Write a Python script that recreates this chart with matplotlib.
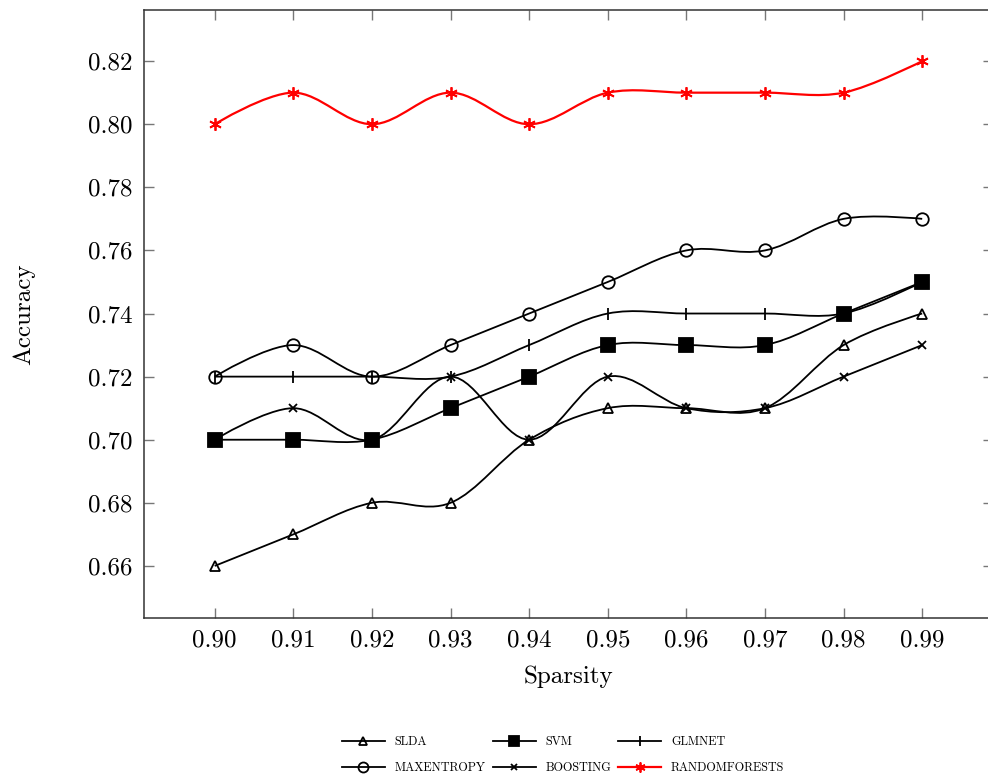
import numpy as np
import matplotlib
matplotlib.use("Agg")
import matplotlib.pyplot as plt
from matplotlib.path import Path
from matplotlib.patches import PathPatch
from matplotlib.lines import Line2D

# data
sparsity = [0.90, 0.91, 0.92, 0.93, 0.94, 0.95, 0.96, 0.97, 0.98, 0.99]
slda = [0.66, 0.67, 0.68, 0.68, 0.70, 0.71, 0.71, 0.71, 0.73, 0.74]
maxentropy = [0.72, 0.73, 0.72, 0.73, 0.74, 0.75, 0.76, 0.76, 0.77, 0.77]
svm = [0.70, 0.70, 0.70, 0.71, 0.72, 0.73, 0.73, 0.73, 0.74, 0.75]
boosting = [0.70, 0.71, 0.70, 0.72, 0.70, 0.72, 0.71, 0.71, 0.72, 0.73]
glmnet = [0.72, 0.72, 0.72, 0.72, 0.73, 0.74, 0.74, 0.74, 0.74, 0.75]
randomforests = [0.80, 0.81, 0.80, 0.81, 0.80, 0.81, 0.81, 0.81, 0.81, 0.82]

yticks = [0.66, 0.68, 0.70, 0.72, 0.74, 0.76, 0.78, 0.80, 0.82]


def smooth_path(x, y, tension=0.17):
    """bezier path through the points, like tikz 'smooth'"""
    pts = np.column_stack([x, y])
    n = len(pts)
    verts = [pts[0]]
    codes = [Path.MOVETO]
    for i in range(n - 1):
        p0 = pts[max(i - 1, 0)]
        p1 = pts[i]
        p2 = pts[i + 1]
        p3 = pts[min(i + 2, n - 1)]
        c1 = p1 + tension * (p2 - p0) if i > 0 else p1
        c2 = p2 - tension * (p3 - p1) if i < n - 2 else p2
        verts += [c1, c2, p2]
        codes += [Path.CURVE4] * 3
    return Path(verts, codes)


plt.rcParams['font.family'] = ['cmr10', 'DejaVu Serif']
plt.rcParams['mathtext.fontset'] = 'cm'
plt.rcParams['axes.unicode_minus'] = False

fig = plt.figure(figsize=(9.88, 7.75), dpi=100)
ax = fig.add_axes([0.1457, 0.2026, 0.8593, 0.7845])

series = [
    ("SLDA", slda, dict(marker='^', ms=7, mfc='none', mec='black', color='black')),
    ("MAXENTROPY", maxentropy, dict(marker='o', ms=9, mfc='none', mec='black', color='black')),
    ("SVM", svm, dict(marker='s', ms=9.5, mfc='black', mec='black', color='black')),
    ("BOOSTING", boosting, dict(marker='x', ms=6, mec='black', color='black')),
    ("GLMNET", glmnet, dict(marker='|', ms=9, mec='black', color='black')),
    ("RANDOMFORESTS", randomforests, dict(marker=(6, 2, 0), ms=9, mec='red', color='red')),
]

handles = []
for name, vals, st in series:
    lw = 1.6 if st['color'] == 'red' else 1.3
    patch = PathPatch(smooth_path(sparsity, vals), fill=False,
                      edgecolor=st['color'], lw=lw, zorder=2)
    ax.add_patch(patch)
    ax.plot(sparsity, vals, ls='none', marker=st['marker'], ms=st['ms'],
            mfc=st.get('mfc', st['color']), mec=st['mec'], mew=1.3, zorder=3)
    handles.append(Line2D([], [], color=st['color'], lw=lw, marker=st['marker'],
                          ms=st['ms'] * 0.8, mfc=st.get('mfc', st['color']),
                          mec=st['mec'], mew=1.3, label=name))

ax.set_xlim(0.891, 0.999)
ax.set_ylim(0.6435, 0.8362)
ax.set_xticks(sparsity)
ax.set_xticklabels(["%.2f" % v for v in sparsity])
ax.set_yticks(yticks)
ax.set_yticklabels(["%.2f" % v for v in yticks])
ax.tick_params(direction='in', length=7, width=1, color='#777777',
               top=True, right=True, labelsize=18, pad=8)
for sp in ax.spines.values():
    sp.set_color('#333333')
    sp.set_linewidth(1.1)

ax.set_xlabel("Sparsity", fontsize=18, labelpad=10)
ax.set_ylabel("Accuracy", fontsize=18, labelpad=38)

fig.legend(handles=handles, loc='center', bbox_to_anchor=(563 / 988, 1 - 755 / 775),
           ncol=3, frameon=False, fontsize=8.8, handlelength=3.5,
           columnspacing=0.6, labelspacing=1.1, handletextpad=0.8)

fig.savefig("out.png", dpi=100)
